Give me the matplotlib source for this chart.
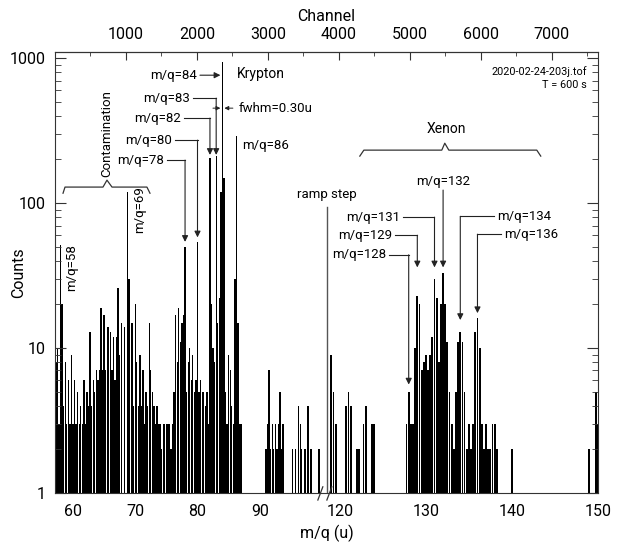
import numpy as np
import matplotlib.pyplot as plt
from matplotlib.ticker import FixedLocator, MultipleLocator, NullFormatter
from matplotlib.transforms import blended_transform_factory

plt.rcParams['font.family'] = ['Roboto', 'DejaVu Sans']

# spectrum, 0.25 u bins
BIN = 0.25

# first ramp segment, m/q 57.00 ... 99.75
MQ_LEFT_START = 57.0
COUNTS_LEFT = [
    0, 8, 10, 3,        # 57
    51, 20, 4, 8,       # 58
    3, 6, 3, 9,         # 59
    3, 6, 3, 5,         # 60
    3, 4, 3, 6,         # 61
    3, 5, 4, 13,        # 62
    4, 6, 5, 7,         # 63
    6, 7, 19, 7,        # 64
    17, 7, 14, 14,      # 65
    13, 7, 12, 6,       # 66
    12, 26, 9, 15,      # 67
    0, 14, 0, 120,      # 68
    30, 0, 15, 4,       # 69
    20, 8, 4, 9,        # 70
    4, 7, 3, 5,         # 71
    4, 15, 7, 5,        # 72
    4, 3, 4, 3,         # 73
    3, 2, 3, 3,         # 74
    3, 3, 3, 2,         # 75
    3, 5, 17, 8,        # 76
    19, 11, 15, 17,     # 77
    50, 5, 8, 10,       # 78
    6, 9, 5, 6,         # 79
    54, 5, 6, 5,        # 80
    5, 4, 5, 3,         # 81
    205, 20, 10, 8,     # 82
    210, 15, 22, 120,   # 83
    940, 150, 5, 3,     # 84
    9, 7, 4, 3,         # 85
    30, 290, 15, 3,     # 86
    3, 0, 0, 0,         # 87
    0, 0, 0, 0,         # 88
    0, 0, 0, 0,         # 89
    0, 0, 0, 0,         # 90
    2, 3, 7, 2,         # 91
    3, 2, 3, 2,         # 92
    3, 5, 2, 3,         # 93
    0, 0, 0, 0,         # 94
    0, 2, 0, 2,         # 95
    0, 4, 3, 2,         # 96
    0, 2, 0, 4,         # 97
    0, 2, 0, 0,         # 98
    0, 0, 2, 0,         # 99
]

# second ramp segment, m/q 118.75 ... 150.00
MQ_RIGHT_START = 118.75
COUNTS_RIGHT = [
    0,                  # 118.75
    9, 5, 3, 0,         # 119
    0, 0, 0, 4,         # 120
    5, 4, 0, 0,         # 121
    2, 2, 0, 3,         # 122
    4, 0, 0, 3,         # 123
    3, 0, 0, 0,         # 124
    0, 0, 0, 0,         # 125
    0, 0, 0, 0,         # 126
    0, 0, 0, 3,         # 127
    5, 3, 3, 10,        # 128
    23, 20, 7, 8,       # 129
    9, 7, 9, 12,        # 130
    30, 22, 8, 20,      # 131
    33, 20, 11, 5,      # 132
    3, 2, 5, 11,        # 133
    13, 11, 5, 2,       # 134
    3, 2, 3, 13,        # 135
    16, 10, 3, 2,       # 136
    3, 2, 2, 3,         # 137
    3, 2, 0, 0,         # 138
    0, 0, 0, 0,         # 139
    2, 0, 0, 0,         # 140
    0, 0, 0, 0,         # 141
    0, 0, 0, 0,         # 142
    0, 0, 0, 0,         # 143
    0, 0, 0, 0,         # 144
    0, 0, 0, 0,         # 145
    0, 0, 0, 0,         # 146
    0, 0, 0, 0,         # 147
    0, 0, 0, 0,         # 148
    2, 0, 0, 5,         # 149
    3,                  # 150
]

# channel = c0 + k * (m/q - m0) for each ramp segment
CAL_LEFT = (60.0, 253.5, 87.7)
CAL_RIGHT = (120.0, 4014.0, 121.1)
RAMP_CHANNEL = 3830
N_CHANNELS = 7650

MQ_TICKS = [60, 70, 80, 90, 120, 130, 140, 150]
CHANNEL_TICKS = [1000, 2000, 3000, 4000, 5000, 6000, 7000]
COUNT_TICKS = [1, 10, 100, 1000]

LC = '#222222'


def to_channel(mq):
    mq = np.asarray(mq, dtype=float)
    m0, c0, k = CAL_LEFT
    left = c0 + k * (mq - m0)
    m0, c0, k = CAL_RIGHT
    right = c0 + k * (mq - m0)
    return np.where(mq < 110, left, right)


fig = plt.figure(figsize=(6.18, 5.48), dpi=100)
ax = fig.add_axes([0.089, 0.1004, 0.8787, 0.8044])

# spectrum as thin bars standing on the baseline
for start, counts, cal in [(MQ_LEFT_START, COUNTS_LEFT, CAL_LEFT),
                           (MQ_RIGHT_START, COUNTS_RIGHT, CAL_RIGHT)]:
    counts = np.array(counts, dtype=float)
    mq = start + BIN * np.arange(len(counts))
    keep = counts > 1
    ax.bar(to_channel(mq[keep]), counts[keep] - 1, bottom=1,
           width=0.85 * BIN * cal[2], color='black', linewidth=0)

ax.set_yscale('log')
ax.set_ylim(1, 1100)
ax.set_xlim(0, N_CHANNELS)

# axes styling
for sp in ax.spines.values():
    sp.set_color('#333333')
ax.yaxis.set_major_locator(FixedLocator(COUNT_TICKS))
ax.set_yticklabels([str(t) for t in COUNT_TICKS])
ax.yaxis.set_minor_formatter(NullFormatter())
ax.tick_params(axis='y', which='major', direction='in', length=8, right=True,
               labelsize=11.5, pad=7, color='#333333')
ax.tick_params(axis='y', which='minor', direction='in', length=4, right=True,
               color='#333333')

ax.set_xticks(to_channel(MQ_TICKS))
ax.set_xticklabels([str(t) for t in MQ_TICKS])
ax.tick_params(axis='x', length=0, pad=8, labelsize=11.5)
ax.set_xlabel('m/q (u)', fontsize=11.5, labelpad=4)
ax.set_ylabel('Counts', fontsize=11.5)
ax.yaxis.set_label_coords(-0.053, 0.5)

top = ax.secondary_xaxis('top')
top.set_xticks(CHANNEL_TICKS)
top.set_xticklabels([str(t) for t in CHANNEL_TICKS])
top.xaxis.set_minor_locator(MultipleLocator(500))
top.tick_params(which='major', direction='in', length=6, pad=7, labelsize=11.5,
                color='#333333')
top.tick_params(which='minor', direction='in', length=3, color='#333333')
top.set_xlabel('Channel', fontsize=11.5, labelpad=4.5)

# axis break marks at the ramp step
trans = blended_transform_factory(ax.transData, ax.transAxes)
for x0 in (RAMP_CHANNEL - 127, RAMP_CHANNEL):
    ax.plot([x0, x0 + 70], [-0.016, 0.014], transform=trans, clip_on=False,
            color='#333333', lw=0.9)

# ramp step marker
ax.plot([RAMP_CHANNEL, RAMP_CHANNEL], [1, 94], color='#555555', lw=1.0)
ax.text(RAMP_CHANNEL, 115, 'ramp step', ha='center', va='center', fontsize=9.5)

ann = dict(fontsize=9.5, va='center')
gap = 45


def callout(label, mq, tip, tx, ty, side='left'):
    x = float(to_channel(mq))
    if side == 'left':
        ax.text(tx, ty, label, ha='right', **ann)
        x0 = tx + gap
    else:
        ax.text(tx, ty, label, ha='left', **ann)
        x0 = tx - gap
    ax.plot([x0, x], [ty, ty], color=LC, lw=0.8)
    ax.annotate('', xy=(x, tip), xytext=(x, ty),
                arrowprops=dict(arrowstyle='-|>', color=LC, lw=0.8,
                                shrinkA=0, shrinkB=0, mutation_scale=9))


# krypton isotopes
callout('m/q=78', 78, 54, 1535, 198)
callout('m/q=80', 80, 58, 1647, 272)
callout('m/q=82', 82, 215, 1774, 386)
callout('m/q=83', 83, 215, 1901, 530)
ax.text(2000, 763, 'm/q=84', ha='right', **ann)
ax.annotate('', xy=(2330, 763), xytext=(2042, 763),
            arrowprops=dict(arrowstyle='-|>', color=LC, lw=0.8,
                            shrinkA=0, shrinkB=0, mutation_scale=9))
ax.text(2563, 776, 'Krypton', ha='left', fontsize=10, va='center')
ax.text(2633, 251, 'm/q=86', ha='left', **ann)

# fwhm marker
for a, b in [(2225, 2330), (2506, 2386)]:
    ax.annotate('', xy=(b, 452), xytext=(a, 452),
                arrowprops=dict(arrowstyle='-|>', color=LC, lw=0.7,
                                shrinkA=0, shrinkB=0, mutation_scale=6))
ax.text(2591, 452, 'fwhm=0.30u', ha='left', **ann)

# contamination
ax.plot([113, 141, 676, 732, 803, 1295, 1338], [117, 129, 129, 144, 129, 129, 117],
        color='#333333', lw=0.9)
ax.text(732, 304, 'Contamination', rotation=90, ha='center', fontsize=9.5, va='center')
ax.text(1197, 90, 'm/q=69', rotation=90, ha='center', fontsize=9.5, va='center')
ax.text(239, 36, 'm/q=58', rotation=90, ha='center', fontsize=9.5, va='center')

# xenon isotopes
ax.plot([4294, 4351, 5449, 5491, 5548, 6787, 6843], [211, 232, 232, 259, 232, 232, 211],
        color='#333333', lw=0.9)
ax.text(5519, 324, 'Xenon', ha='center', fontsize=10, va='center')
callout('m/q=128', 128, 5.6, 4660, 44)
callout('m/q=129', 129, 36, 4745, 60)
callout('m/q=131', 131, 36, 4858, 80)
x132 = float(to_channel(132))
ax.text(x132, 142, 'm/q=132', ha='center', **ann)
ax.annotate('', xy=(x132, 36), xytext=(x132, 123),
            arrowprops=dict(arrowstyle='-|>', color=LC, lw=0.8,
                            shrinkA=0, shrinkB=0, mutation_scale=9))
callout('m/q=134', 134, 15.6, 6223, 81, side='right')
callout('m/q=136', 136, 17.4, 6322, 61, side='right')

ax.text(0.98, 0.957, '2020-02-24-203j.tof', transform=ax.transAxes,
        ha='right', va='center', fontsize=7.8)
ax.text(0.98, 0.925, 'T = 600 s', transform=ax.transAxes,
        ha='right', va='center', fontsize=7.8)

fig.savefig('out.png', dpi=100)
